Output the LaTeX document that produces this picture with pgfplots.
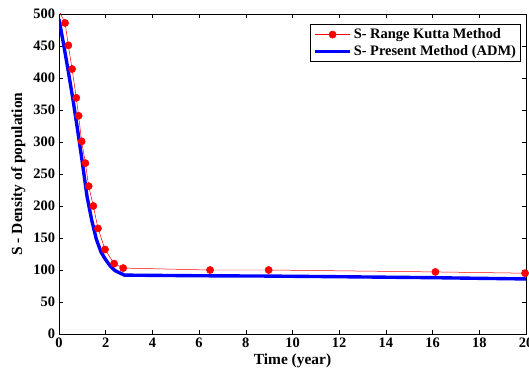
\documentclass[border=0pt]{standalone}
\usepackage{fontspec}
\setmainfont{Liberation Serif}
\usepackage{pgfplots}
\pgfplotsset{compat=1.18}
\begin{document}
\begin{tikzpicture}
\useasboundingbox (0,0) rectangle (529bp,370bp);
\begin{axis}[
  at={(59bp,36bp)}, anchor=south west,
  width=467bp, height=320bp, scale only axis,
  xmin=0, xmax=20, ymin=0, ymax=500,
  xtick={0,2,...,20}, ytick={0,50,...,500},
  tick align=inside, major tick length=4bp,
  tick style={black, line width=0.6pt},
  axis line style={black, line width=0.8pt},
  /pgf/number format/assume math mode=true,
  every tick label/.append style={font=\fontsize{14.5}{16}\selectfont\bfseries},
  xticklabel style={yshift=-0.5bp},
  yticklabel style={xshift=-0.5bp},
  xlabel={Time (year)},
  ylabel={S - Density of population},
  label style={font=\fontsize{15.5}{17}\selectfont\bfseries},
  xlabel style={yshift=1bp},
  ylabel style={yshift=1bp},
  legend style={at={(0.989,0.969)}, anchor=north east, draw=black, line width=0.8pt,
    font=\fontsize{14.5}{16}\selectfont\bfseries, inner sep=2.5bp, row sep=1.5bp,
    cells={anchor=west}},
  legend image code/.code={\draw[mark repeat=2,mark phase=2,#1] plot coordinates {(0bp,0bp)(17.5bp,0bp)(35bp,0bp)};},
]
\addplot[red, line width=0.5pt, forget plot] coordinates {(0,505) (0.26,486)};
\addplot[red, line width=0.5pt, mark=*, mark size=3.6bp, mark options={fill=red, draw=red}] coordinates {
(0.26,486) (0.40,451) (0.56,414) (0.74,369) (0.84,341) (0.97,301) (1.13,267)
(1.27,231) (1.47,200) (1.67,165) (1.97,132) (2.36,110) (2.75,103)
(6.47,100) (8.98,100) (16.12,97) (19.96,95)};
\addlegendentry{S- Range Kutta Method}
\addplot[blue, line width=3.4pt] coordinates {
(0,492) (0.2,452) (0.4,410) (0.6,366) (0.8,318) (1.0,268) (1.2,215) (1.4,178)
(1.6,148) (1.8,128) (2.0,116) (2.2,106) (2.4,99) (2.8,92) (6,91) (9,90.5)
(12,89.5) (16,88) (20,86)};
\addlegendentry{S- Present Method (ADM)}
\end{axis}
\end{tikzpicture}
\end{document}
